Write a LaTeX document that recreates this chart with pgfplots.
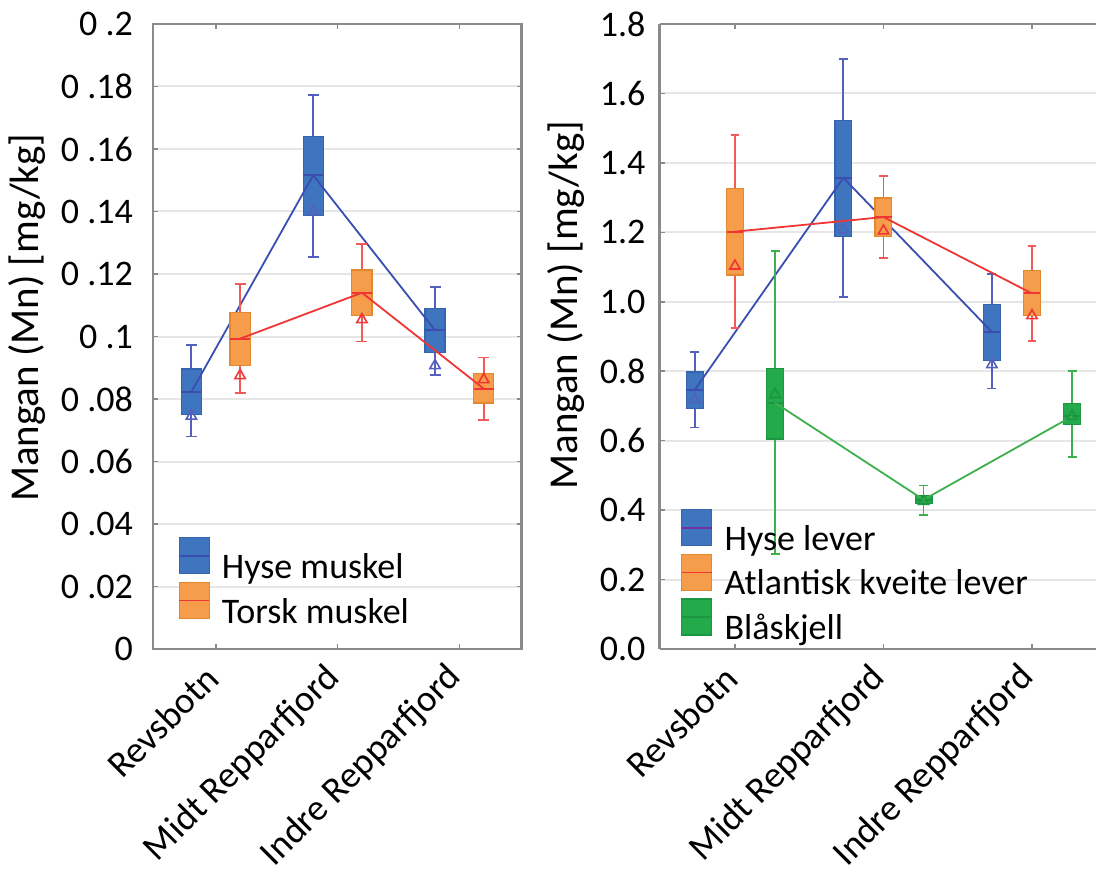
\documentclass[border=0pt]{standalone}
\usepackage{fontspec}
\setmainfont{Carlito}
\usepackage{pgfplots}
\pgfplotsset{compat=1.18}
\usepgfplotslibrary{statistics}
\newcommand{\fs}{\fontsize{18}{21.6}\selectfont}
\newcommand{\fsx}{\fontsize{18.5}{22}\selectfont}
\newcommand{\fsy}{\fontsize{20.5}{24}\selectfont}
\definecolor{hblue}{HTML}{3F74BF}
\definecolor{hblueedge}{HTML}{3565AD}
\definecolor{hmed}{HTML}{3A4DB0}
\definecolor{hwhisk}{HTML}{5560BE}
\definecolor{orfill}{HTML}{F59D4A}
\definecolor{oredge}{HTML}{E0892F}
\definecolor{ormed}{HTML}{F03535}
\definecolor{orwhisk}{HTML}{F05A5A}
\definecolor{grfill}{HTML}{22AA4B}
\definecolor{gredge}{HTML}{1C9642}
\definecolor{grline}{HTML}{3DB04D}
\definecolor{gridc}{HTML}{E6E6E6}
\definecolor{framec}{HTML}{8A8A8A}
\definecolor{legpurple}{HTML}{7030A0}
\pgfplotsset{
  myaxis/.style={
    scale only axis,
    tick align=inside, major tick length=2.5pt,
    every tick/.style={framec, line width=0.8pt},
    axis line style={framec, line width=1.2pt},
    ymajorgrids, grid style={gridc, line width=1pt},
    xtick={0,1,2}, xticklabels={Revsbotn, Midt Repparfjord, Indre Repparfjord},
    xticklabel style={rotate=45, anchor=east, font=\fsx, yshift=-7pt, xshift=-6pt},
    yticklabel style={font=\fs},
    /pgf/number format/assume math mode=true,
    ylabel={Mangan (Mn) [mg/kg]},
    ylabel style={font=\fsy, anchor=center, rotate=0},
    legend style={draw=none, fill=none, font=\fs, inner sep=0pt, anchor=north west,
      nodes={inner sep=1pt}, row sep=-0.8pt,
      /tikz/every odd column/.append style={column sep=5pt}},
    legend cell align=left,
    boxplot/draw direction=y,
  },
  hysebox/.style={forget plot, draw=hblueedge, fill=hblue, line width=0.6pt,
    boxplot/every whisker/.style={draw=hwhisk, line width=0.9pt},
    boxplot/every median/.style={draw=hmed, line width=1pt}},
  orbox/.style={forget plot, draw=oredge, fill=orfill, line width=0.6pt,
    boxplot/every whisker/.style={draw=orwhisk, line width=0.9pt},
    boxplot/every median/.style={draw=ormed, line width=1pt}},
  grbox/.style={forget plot, draw=gredge, fill=grfill, line width=0.6pt,
    boxplot/every whisker/.style={draw=grline, line width=0.9pt},
    boxplot/every median/.style={draw=gredge, line width=1pt}},
  tri/.style={forget plot, only marks, mark=triangle, mark size=3pt, line width=0.8pt},
}
\begin{document}
\begin{tikzpicture}[x=1pt,y=1pt]
\path[use as bounding box] (0,0) rectangle (548,434);
% ---------------- left panel ----------------
\begin{axis}[myaxis, at={(76.5pt,109.5pt)}, anchor=south west,
  width=184.25pt, height=312.5pt,
  xmin=-0.515, xmax=2.51, ymin=0, ymax=0.2,
  ytick={0,0.02,0.04,0.06,0.08,0.1,0.12,0.14,0.16,0.18,0.2},
  yticklabels={0, 0 .02, 0 .04, 0 .06, 0 .08, 0 .1, 0 .12, 0 .14, 0 .16, 0 .18, 0 .2},
  yticklabel style={xshift=-6.5pt},
  ylabel style={at={(axis description cs:-0.342,0.53)}},
  boxplot/box extend=0.165, boxplot/whisker extend=0.09,
  legend style={at={(axis cs:-0.31,0.0359)}},
]
% Hyse muskel
\addplot[hysebox, boxplot prepared={draw position=-0.2, lower whisker=0.068, lower quartile=0.075, median=0.0823, upper quartile=0.0896, upper whisker=0.0972}] coordinates {};
\addplot[hysebox, boxplot prepared={draw position=0.8, lower whisker=0.1255, lower quartile=0.1388, median=0.1516, upper quartile=0.164, upper whisker=0.1773}] coordinates {};
\addplot[hysebox, boxplot prepared={draw position=1.8, lower whisker=0.0878, lower quartile=0.0948, median=0.102, upper quartile=0.1089, upper whisker=0.1158}] coordinates {};
\addplot[forget plot, hmed, line width=0.9pt] coordinates {(-0.2,0.0823) (0.8,0.1516) (1.8,0.102)};
\addplot[tri, hwhisk] coordinates {(-0.2,0.0745) (0.8,0.140) (1.8,0.0907)};
% Torsk muskel
\addplot[orbox, boxplot prepared={draw position=0.2, lower whisker=0.082, lower quartile=0.0908, median=0.0993, upper quartile=0.1076, upper whisker=0.1167}] coordinates {};
\addplot[orbox, boxplot prepared={draw position=1.2, lower whisker=0.0984, lower quartile=0.1068, median=0.114, upper quartile=0.1213, upper whisker=0.1295}] coordinates {};
\addplot[orbox, boxplot prepared={draw position=2.2, lower whisker=0.0734, lower quartile=0.0787, median=0.0833, upper quartile=0.0881, upper whisker=0.0933}] coordinates {};
\addplot[forget plot, ormed, line width=0.9pt] coordinates {(0.2,0.0993) (1.2,0.114) (2.2,0.0833)};
\addplot[tri, ormed] coordinates {(0.2,0.0875) (1.2,0.1054) (2.2,0.0862)};
% legend
\addlegendimage{legend image code/.code={\filldraw[fill=hblue,draw=hblueedge,line width=0.6pt] (0pt,-3.2pt) rectangle (15pt,14.8pt); \draw[hmed,line width=0.8pt] (0pt,5.8pt) -- (15pt,5.8pt);}}
\addlegendentry{Hyse muskel}
\addlegendimage{legend image code/.code={\filldraw[fill=orfill,draw=oredge,line width=0.6pt] (0pt,-3.2pt) rectangle (15pt,14.8pt); \draw[ormed,line width=0.8pt] (0pt,5.8pt) -- (15pt,5.8pt);}}
\addlegendentry{Torsk muskel}
\end{axis}
% ---------------- right panel ----------------
\begin{axis}[myaxis, at={(329.75pt,109.5pt)}, anchor=south west,
  width=218.25pt, height=312.5pt,
  axis x line*=box, axis y line*=left,
  xmin=-0.508, xmax=2.431, ymin=0, ymax=1.8,
  ytick={0,0.2,0.4,0.6,0.8,1.0,1.2,1.4,1.6,1.8},
  yticklabels={0.0, 0.2, 0.4, 0.6, 0.8, 1.0, 1.2, 1.4, 1.6, 1.8},
  yticklabel style={xshift=-3.5pt},
  ylabel style={at={(axis description cs:-0.214,0.55)}},
  boxplot/box extend=0.113, boxplot/whisker extend=0.06,
  legend style={at={(axis cs:-0.366,0.404)}},
]
% Hyse lever
\addplot[hysebox, boxplot prepared={draw position=-0.27, lower whisker=0.638, lower quartile=0.693, median=0.747, upper quartile=0.798, upper whisker=0.855}] coordinates {};
\addplot[hysebox, boxplot prepared={draw position=0.73, lower whisker=1.014, lower quartile=1.189, median=1.357, upper quartile=1.523, upper whisker=1.699}] coordinates {};
\addplot[hysebox, boxplot prepared={draw position=1.73, lower whisker=0.75, lower quartile=0.832, median=0.913, upper quartile=0.992, upper whisker=1.079}] coordinates {};
\addplot[forget plot, hmed, line width=0.9pt] coordinates {(-0.27,0.747) (0.73,1.357) (1.73,0.913)};
\addplot[tri, hwhisk] coordinates {(-0.27,0.718) (0.73,1.208) (1.73,0.819)};
% Atlantisk kveite lever
\addplot[orbox, boxplot prepared={draw position=0, lower whisker=0.924, lower quartile=1.077, median=1.202, upper quartile=1.327, upper whisker=1.48}] coordinates {};
\addplot[orbox, boxplot prepared={draw position=1, lower whisker=1.125, lower quartile=1.188, median=1.244, upper quartile=1.299, upper whisker=1.362}] coordinates {};
\addplot[orbox, boxplot prepared={draw position=2, lower whisker=0.886, lower quartile=0.96, median=1.024, upper quartile=1.09, upper whisker=1.161}] coordinates {};
\addplot[forget plot, ormed, line width=0.9pt] coordinates {(0,1.202) (1,1.244) (2,1.024)};
\addplot[tri, ormed] coordinates {(0,1.103) (1,1.204) (2,0.96)};
% Blaaskjell
\addplot[grbox, boxplot prepared={draw position=0.27, lower whisker=0.273, lower quartile=0.605, median=0.709, upper quartile=0.808, upper whisker=1.146}] coordinates {};
\addplot[grbox, boxplot prepared={draw position=1.27, lower whisker=0.386, lower quartile=0.418, median=0.43, upper quartile=0.441, upper whisker=0.471}] coordinates {};
\addplot[grbox, boxplot prepared={draw position=2.27, lower whisker=0.552, lower quartile=0.646, median=0.67, upper quartile=0.706, upper whisker=0.80}] coordinates {};
\addplot[forget plot, grline, line width=0.9pt] coordinates {(0.27,0.709) (1.27,0.43) (2.27,0.67)};
\addplot[tri, gredge] coordinates {(0.27,0.733) (1.27,0.425) (2.27,0.67)};
% legend
\addlegendimage{legend image code/.code={\filldraw[fill=hblue,draw=hblueedge,line width=0.6pt] (0pt,-3.2pt) rectangle (15pt,14.8pt); \draw[legpurple,line width=0.8pt] (0pt,5.8pt) -- (15pt,5.8pt);}}
\addlegendentry{Hyse lever}
\addlegendimage{legend image code/.code={\filldraw[fill=orfill,draw=oredge,line width=0.6pt] (0pt,-3.2pt) rectangle (15pt,14.8pt); \draw[ormed,line width=0.8pt] (0pt,5.8pt) -- (15pt,5.8pt);}}
\addlegendentry{Atlantisk  kveite lever}
\addlegendimage{legend image code/.code={\filldraw[fill=grfill,draw=gredge,line width=0.6pt] (0pt,-3.2pt) rectangle (15pt,14.8pt); \draw[gredge,line width=0.8pt] (0pt,5.8pt) -- (15pt,5.8pt);}}
\addlegendentry{Blåskjell}
\end{axis}
\end{tikzpicture}
\end{document}
